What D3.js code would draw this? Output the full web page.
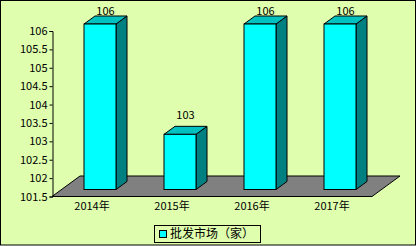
<!DOCTYPE html>
<html>
<head>
<meta charset="utf-8">
<script src="https://d3js.org/d3.v7.min.js"></script>
<style>
  body { margin:0; background:#fff; }
  text { font-family: "Noto Sans CJK SC", "DejaVu Sans", sans-serif; font-size: 11px; fill:#000; }
</style>
</head>
<body>
<script>
const categories = ["2014年", "2015年", "2016年", "2017年"];
const values = [106, 103, 106, 106];
const yTicks = [101.5, 102, 102.5, 103, 103.5, 104, 104.5, 105, 105.5, 106];
const seriesName = "批发市场（家）";

const width = 416, height = 246;
// 3D geometry
const floorD = { dx: 28, dy: -20.5 };
const barOff = { dx: 8, dy: -7 };
const barD = { dx: 11, dy: -8 };
const barW = 32;

const svg = d3.select("body").append("svg")
  .attr("width", width).attr("height", height);

svg.append("rect")
  .attr("x", 0.5).attr("y", 0.5)
  .attr("width", width - 1).attr("height", height - 1.5)
  .attr("fill", "#dfffae").attr("stroke", "#000");

const x = d3.scaleBand().domain(categories).range([52, 372]);
const y = d3.scaleLinear().domain([101.5, 106]).range([196.5, 31]);

// floor
const fy = y(101.5);
svg.append("path")
  .attr("d", d3.line()([
    [52, fy], [372, fy], [372 + floorD.dx, fy + floorD.dy], [52 + floorD.dx, fy + floorD.dy]
  ]) + "Z")
  .attr("fill", "#808080").attr("stroke", "#000").attr("stroke-width", 1);

// y axis
const yAxis = d3.axisLeft(y).tickValues(yTicks).tickSize(3).tickPadding(2)
  .tickFormat(d => String(d));
const ga = svg.append("g").attr("transform", "translate(52.5,0)").call(yAxis);
ga.select(".domain").attr("stroke", "#000");
ga.selectAll(".tick line").attr("stroke", "#000");
ga.selectAll("text").style("font-size", "11px").attr("fill", "#000");

// bars
const bars = svg.append("g").selectAll("g").data(values).enter().append("g");
bars.each(function (v, i) {
  const g = d3.select(this);
  const x0 = x(categories[i]) + (x.bandwidth() - barW) / 2 + barOff.dx;
  const x1 = x0 + barW;
  const yb = y(101.5) + barOff.dy;
  const yt = y(v) + barOff.dy;
  g.append("path") // side
    .attr("d", d3.line()([[x1, yb], [x1, yt], [x1 + barD.dx, yt + barD.dy], [x1 + barD.dx, yb + barD.dy]]) + "Z")
    .attr("fill", "#008080").attr("stroke", "#000").attr("stroke-linejoin", "round");
  g.append("path") // top
    .attr("d", d3.line()([[x0, yt], [x1, yt], [x1 + barD.dx, yt + barD.dy], [x0 + barD.dx, yt + barD.dy]]) + "Z")
    .attr("fill", "#00c0c0").attr("stroke", "#000").attr("stroke-linejoin", "round");
  g.append("rect") // front
    .attr("x", x0).attr("y", yt).attr("width", barW).attr("height", yb - yt)
    .attr("fill", "#00ffff").attr("stroke", "#000");
  g.append("text")
    .attr("x", (x0 + x1) / 2 + barD.dx / 2)
    .attr("y", Math.max(14.5, yt + barD.dy - 7))
    .attr("text-anchor", "middle")
    .text(v);
});

// x labels
svg.append("g").selectAll("text").data(categories).enter().append("text")
  .attr("x", d => x(d) + x.bandwidth() / 2)
  .attr("y", 210)
  .attr("text-anchor", "middle")
  .text(d => d);

// legend
const lg = svg.append("g");
lg.append("rect").attr("x", 154.5).attr("y", 225.5).attr("width", 106).attr("height", 17)
  .attr("fill", "none").attr("stroke", "#000");
lg.append("rect").attr("x", 159.5).attr("y", 230.5).attr("width", 7).attr("height", 7)
  .attr("fill", "#00ffff").attr("stroke", "#000");
lg.append("text").attr("x", 170).attr("y", 238).text(seriesName).style("font-size", "12px");
</script>
</body>
</html>
